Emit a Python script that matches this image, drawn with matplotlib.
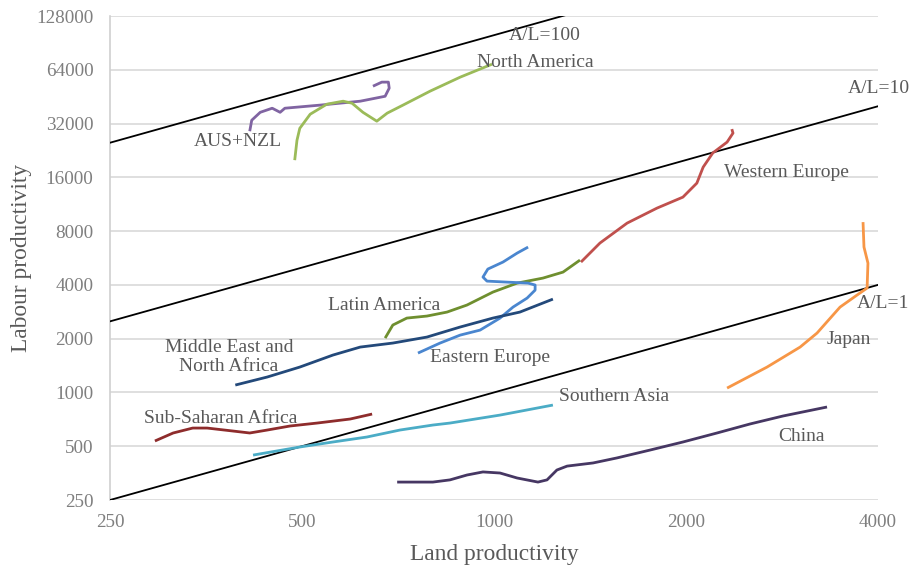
import matplotlib
matplotlib.use("Agg")
import matplotlib.pyplot as plt
import numpy as np

# ---------------- data ----------------
x_ticks = [250, 500, 1000, 2000, 4000]
y_ticks = [250, 500, 1000, 2000, 4000, 8000, 16000, 32000, 64000, 128000]
al_ratios = [1, 10, 100]

aus_x = [414, 417, 430, 449, 462, 470, 534, 617, 675, 685, 683, 667, 646]
aus_y = [29000, 33400, 37000, 39000, 37000, 39000, 40600, 42700, 45500, 50500, 54600, 54600, 51800]

nam_x = [487, 491, 496, 515, 547, 580, 599, 623, 655, 680, 720, 794, 885, 993]
nam_y = [19970, 25800, 30100, 36100, 41100, 42700, 41600, 37000, 33000, 36600, 40600, 48600, 58200, 68800]

weu_x = [1369, 1466, 1617, 1801, 1978, 2080, 2128, 2203, 2320, 2370, 2360]
weu_y = [5370, 6860, 8870, 10760, 12400, 14850, 18250, 21900, 25200, 28300, 29800]

lat_x = [675, 694, 730, 785, 844, 907, 996, 1087, 1193, 1283, 1364]
lat_y = [2015, 2384, 2608, 2677, 2818, 3085, 3646, 4093, 4366, 4717, 5507]

eeu_x = [760, 823, 885, 951, 1022, 1071, 1127, 1160, 1160, 1131, 1048, 975, 961, 978, 1033, 1087, 1131]
eeu_y = [1661, 1890, 2094, 2234, 2608, 3004, 3375, 3740, 3993, 4093, 4146, 4200, 4425, 4905, 5370, 6025, 6512]

mena_x = [393, 441, 496, 559, 617, 694, 785, 885, 996, 1098, 1237]
mena_y = [1100, 1220, 1387, 1619, 1795, 1890, 2042, 2324, 2608, 2818, 3330]

ssa_x = [294, 314, 337, 355, 390, 414, 441, 479, 528, 595, 644]
ssa_y = [535, 593, 632, 632, 608, 593, 616, 649, 674, 710, 757]

sas_x = [419, 496, 559, 632, 712, 802, 853, 1022, 1237]
sas_y = [446, 495, 528, 563, 616, 657, 674, 747, 850]

chn_x = [705, 802, 853, 907, 961, 1022, 1087, 1172, 1211, 1255, 1302, 1430, 1559, 1757, 1978, 2237, 2520, 2838, 3328]
chn_y = [315, 315, 324, 345, 359, 354, 332, 315, 324, 368, 387, 403, 430, 476, 528, 593, 666, 738, 829]

jpn_x = [2320, 2680, 3020, 3210, 3488, 3708, 3846, 3858, 3803, 3790]
jpn_y = [1058, 1387, 1795, 2150, 3004, 3507, 3840, 5296, 6512, 8985]

series = [
    (aus_x, aus_y, "#8064A2"),
    (nam_x, nam_y, "#9BBB59"),
    (weu_x, weu_y, "#C0504D"),
    (lat_x, lat_y, "#6F8F2F"),
    (eeu_x, eeu_y, "#4A86CF"),
    (mena_x, mena_y, "#23497A"),
    (ssa_x, ssa_y, "#8E2C2C"),
    (sas_x, sas_y, "#4BACC6"),
    (chn_x, chn_y, "#463763"),
    (jpn_x, jpn_y, "#F79646"),
]

labels = [
    ("A/L=100", 1200, 100000, "center"),
    ("North America", 1160, 70600, "center"),
    ("A/L=10", 3590, 50500, "left"),
    ("AUS+NZL", 397, 25500, "center"),
    ("Western Europe", 2870, 17100, "center"),
    ("Latin America", 672, 3085, "center"),
    ("Middle East and\nNorth Africa", 384, 1578, "center"),
    ("Eastern Europe", 986, 1578, "center"),
    ("Southern Asia", 1542, 955, "center"),
    ("Sub-Saharan Africa", 373, 719, "center"),
    ("Japan", 3602, 1990, "center"),
    ("A/L=1", 3708, 3165, "left"),
    ("China", 3040, 570, "center"),
]

# ---------------- plot ----------------
plt.rcParams['font.family'] = ['Liberation Serif', 'DejaVu Serif']
fig = plt.figure(figsize=(9.1, 5.66), dpi=100)
ax = fig.add_axes([0.1209, 0.1166, 0.9648 - 0.1209, 0.9717 - 0.1166])
ax.set_xscale('log', base=2)
ax.set_yscale('log', base=2)
ax.set_xlim(250, 4000)
ax.set_ylim(250, 128000)

ax.set_xticks(x_ticks)
ax.set_xticklabels([str(v) for v in x_ticks])
ax.set_yticks(y_ticks)
ax.set_yticklabels([str(v) for v in y_ticks])
ax.minorticks_off()
ax.tick_params(axis='both', length=0, labelsize=13.8, colors='#7F7F7F')
ax.tick_params(axis='y', pad=12)
ax.tick_params(axis='x', pad=10)

ax.grid(axis='y', color='#D9D9D9', linewidth=1.2)
ax.set_axisbelow(True)
for s in ['top', 'right', 'bottom']:
    ax.spines[s].set_visible(False)
ax.spines['left'].set_color('#D0D0D0')
ax.spines['left'].set_linewidth(1.2)

xs = np.array([250, 4000])
for r in al_ratios:
    ax.plot(xs, xs * r, color='black', linewidth=1.3, zorder=3)

for x, y, c in series:
    ax.plot(x, y, color=c, linewidth=2.0, solid_capstyle='butt', zorder=4)

for t, x, y, ha in labels:
    ax.text(x, y, t, ha=ha, va='center', fontsize=14, color='#595959',
            zorder=5, linespacing=1.1, clip_on=False)

ax.set_xlabel("Land productivity", fontsize=16.8, color='#595959', labelpad=9.5)
ax.set_ylabel("Labour productivity", fontsize=16.8, color='#595959', labelpad=3)

fig.savefig("out.png", dpi=100)
